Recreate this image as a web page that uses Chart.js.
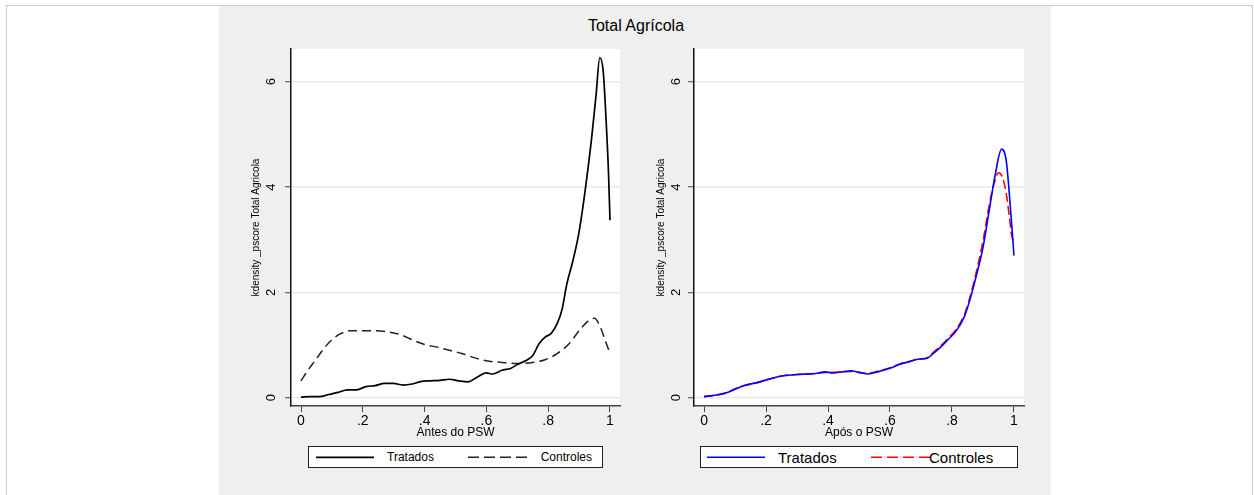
<!DOCTYPE html>
<html>
<head>
<meta charset="utf-8">
<script src="https://cdn.jsdelivr.net/npm/chart.js@4.4.0/dist/chart.umd.min.js"></script>
<style>
  body { margin: 0; background: #fff; width: 1254px; height: 495px; overflow: hidden; position: relative;
         font-family: "Liberation Sans", Arial, sans-serif; }
  #frame { position: absolute; left: 6px; top: 5px; width: 1245px; height: 495px; border: 1px solid #ccc; border-bottom: none; }
  #bg { position: absolute; left: 219px; top: 6px; width: 832px; height: 489px; background: #efefef; }
  #title { position: absolute; left: 219px; width: 834px; top: 18px; text-align: center; font-size: 16px; line-height: 16px; color: #000; }
  canvas { position: absolute; }
  .legend { position: absolute; top: 446px; height: 20px; border: 1px solid #222; background: #fff; }
  .legend svg { position: absolute; top: 0; }
  .legend span { position: absolute; white-space: nowrap; color: #000; }
</style>
</head>
<body>
<div id="frame"></div>
<div id="bg"></div>
<div id="title">Total Agrícola</div>
<canvas id="antes" width="410" height="400" style="left:220px;top:40px"></canvas>
<canvas id="apos" width="404" height="400" style="left:630px;top:40px"></canvas>
<div class="legend" id="legAntes" style="left:308px;width:293px"></div>
<div class="legend" id="legApos" style="left:700px;width:316px"></div>

<script>
const xTickValues = [0, 0.2, 0.4, 0.6, 0.8, 1];
const xTickLabels = ['0', '.2', '.4', '.6', '.8', '1'];
const yTickValues = [0, 2, 4, 6];
const yTickLabels = ['0', '2', '4', '6'];
const yTitle = 'kdensity _pscore Total Agricola';

// Antes do PSW
const antesTratX = [0, 0.03, 0.06, 0.09, 0.12, 0.15, 0.18, 0.21, 0.24, 0.27, 0.30, 0.33, 0.36, 0.39, 0.42, 0.45, 0.48, 0.51, 0.54, 0.57, 0.60, 0.62, 0.65, 0.68, 0.70, 0.73, 0.75, 0.77, 0.79, 0.81, 0.83, 0.845, 0.86, 0.88, 0.90, 0.92, 0.94, 0.955, 0.967, 0.978, 0.988, 0.995, 1.0];
const antesTratY = [0.01, 0.02, 0.02, 0.06, 0.10, 0.15, 0.15, 0.21, 0.23, 0.27, 0.27, 0.24, 0.26, 0.31, 0.32, 0.33, 0.35, 0.32, 0.30, 0.39, 0.47, 0.45, 0.52, 0.56, 0.63, 0.71, 0.80, 1.02, 1.15, 1.22, 1.42, 1.68, 2.15, 2.60, 3.15, 3.95, 4.90, 5.75, 6.46, 6.20, 5.20, 4.30, 3.37];
const antesContX = [0, 0.02, 0.045, 0.075, 0.10, 0.13, 0.16, 0.20, 0.24, 0.28, 0.32, 0.36, 0.40, 0.44, 0.48, 0.52, 0.56, 0.60, 0.65, 0.70, 0.75, 0.79, 0.83, 0.87, 0.90, 0.93, 0.95, 0.97, 0.985, 1.0];
const antesContY = [0.32, 0.50, 0.70, 0.94, 1.10, 1.22, 1.27, 1.27, 1.27, 1.25, 1.20, 1.10, 1.01, 0.96, 0.90, 0.84, 0.76, 0.70, 0.67, 0.65, 0.67, 0.72, 0.84, 1.04, 1.27, 1.46, 1.51, 1.32, 1.08, 0.84];

// Após o PSW
const aposTratX = [0, 0.04, 0.075, 0.10, 0.13, 0.18, 0.22, 0.26, 0.30, 0.33, 0.36, 0.39, 0.415, 0.445, 0.475, 0.50, 0.53, 0.56, 0.60, 0.635, 0.66, 0.69, 0.72, 0.74, 0.765, 0.79, 0.81, 0.84, 0.86, 0.88, 0.90, 0.92, 0.94, 0.96, 0.975, 0.99, 1.0];
const aposTratY = [0.02, 0.05, 0.10, 0.16, 0.23, 0.30, 0.37, 0.42, 0.44, 0.45, 0.46, 0.49, 0.47, 0.49, 0.51, 0.48, 0.45, 0.49, 0.56, 0.64, 0.68, 0.73, 0.75, 0.84, 0.97, 1.12, 1.24, 1.54, 1.90, 2.35, 2.85, 3.55, 4.25, 4.72, 4.50, 3.50, 2.70];
const aposContX = [0, 0.04, 0.075, 0.10, 0.13, 0.18, 0.22, 0.26, 0.30, 0.33, 0.36, 0.39, 0.415, 0.445, 0.475, 0.50, 0.53, 0.56, 0.60, 0.635, 0.66, 0.69, 0.72, 0.74, 0.765, 0.79, 0.81, 0.84, 0.86, 0.88, 0.90, 0.92, 0.935, 0.95, 0.965, 0.975, 0.985, 0.993, 1.0];
const aposContY = [0.02, 0.05, 0.10, 0.17, 0.23, 0.30, 0.37, 0.42, 0.44, 0.45, 0.46, 0.48, 0.48, 0.49, 0.50, 0.48, 0.46, 0.50, 0.57, 0.65, 0.68, 0.73, 0.76, 0.86, 0.99, 1.14, 1.27, 1.58, 1.95, 2.42, 2.97, 3.65, 4.05, 4.27, 4.15, 3.88, 3.45, 3.06, 2.98];

const pts = (xs, ys) => xs.map((x, i) => ({ x: x, y: ys[i] }));

function line(label, xs, ys, color, dash, width) {
  return {
    label: label,
    data: pts(xs, ys),
    showLine: true,
    borderColor: color,
    borderWidth: width,
    borderDash: dash,
    pointRadius: 0,
    cubicInterpolationMode: 'monotone',
    fill: false
  };
}

// white plot region like Stata
const whiteArea = {
  id: 'whiteArea',
  beforeDraw(chart) {
    const { ctx, chartArea: a } = chart;
    ctx.save();
    ctx.fillStyle = '#fff';
    ctx.fillRect(a.left, a.top, a.right - a.left, a.bottom - a.top);
    ctx.restore();
  }
};

function makePanel(id, datasets, xTitle, yWidth, yTitlePad, yTickPad) {
  const ctx = document.getElementById(id).getContext('2d');
  return new Chart(ctx, {
    type: 'scatter',
    data: { datasets: datasets },
    options: {
      responsive: false,
      animation: false,
      devicePixelRatio: 1,
      layout: { padding: { top: 9, right: 10, left: 0, bottom: 0 } },
      plugins: { legend: { display: false }, tooltip: { enabled: false } },
      scales: {
        x: {
          type: 'linear',
          min: -0.0324,
          max: 1.0324,
          afterBuildTicks: s => { s.ticks = xTickValues.map(v => ({ value: v })); },
          afterFit: s => { s.height = 34; s.paddingLeft = 0; s.paddingRight = 0; },
          ticks: {
            callback: (v, i) => xTickLabels[i],
            autoSkip: false, maxRotation: 0, padding: 1,
            color: '#000', font: { family: 'Liberation Sans', size: 14 }
          },
          grid: { drawOnChartArea: false, tickLength: 6, tickColor: '#444', tickWidth: 1 },
          border: { color: '#444', width: 1.5 },
          title: {
            display: true, text: xTitle, color: '#000',
            font: { family: 'Liberation Sans', size: 12 },
            padding: { top: 0, bottom: 0.3 }
          }
        },
        y: {
          type: 'linear',
          min: -0.158,
          max: 6.621,
          afterBuildTicks: s => { s.ticks = yTickValues.map(v => ({ value: v })); },
          afterFit: s => { s.width = yWidth; s.paddingTop = 0; s.paddingBottom = 0; },
          ticks: {
            callback: (v, i) => yTickLabels[i],
            minRotation: 90, maxRotation: 90, crossAlign: 'center', padding: yTickPad,
            color: '#000', font: { family: 'Liberation Sans', size: 13 }
          },
          grid: { color: '#e9e9e9', lineWidth: 1.5, tickLength: 6, tickColor: '#444', tickWidth: 1 },
          border: { color: '#111', width: 1.5 },
          title: {
            display: true, text: yTitle, color: '#000',
            font: { family: 'Liberation Sans', size: 10 },
            padding: { top: yTitlePad, bottom: 0 }
          }
        }
      }
    },
    plugins: [whiteArea]
  });
}

const antesSets = [
  line('Tratados', antesTratX, antesTratY, '#000', [], 1.7),
  line('Controles', antesContX, antesContY, '#222', [9, 5], 1.5)
];
const aposSets = [
  line('Tratados', aposTratX, aposTratY, '#0000ff', [], 1.6),
  line('Controles', aposContX, aposContY, '#ff0000', [9, 4], 1.6)
];

makePanel('antes', antesSets, 'Antes do PSW', 71, 30.5, 9.7);
makePanel('apos', aposSets, 'Após o PSW', 64, 25, 7.7);

// legends (Stata style box under each panel)
function legend(boxId, sets, keys, fontSize, textTop) {
  const box = document.getElementById(boxId);
  sets.forEach((ds, i) => {
    const k = keys[i];
    const w = k.x2 - k.x1;
    const svg = `<svg style="left:${k.x1}px" width="${w}" height="20">` +
      `<line x1="0" y1="10.3" x2="${w}" y2="10.3" stroke="${ds.borderColor}" stroke-width="${ds.borderWidth}"` +
      (ds.borderDash.length ? ` stroke-dasharray="11 5"` : '') + `/></svg>`;
    box.insertAdjacentHTML('beforeend', svg);
    const sp = document.createElement('span');
    sp.textContent = ds.label;
    sp.style.left = k.tx + 'px';
    sp.style.top = textTop + 'px';
    sp.style.fontSize = fontSize + 'px';
    sp.style.lineHeight = fontSize + 'px';
    box.appendChild(sp);
  });
}

legend('legAntes', antesSets, [{ x1: 6.7, x2: 65, tx: 78 }, { x1: 159, x2: 218, tx: 231.7 }], 12, 4.4);
legend('legApos', aposSets, [{ x1: 5.7, x2: 64, tx: 77 }, { x1: 169.7, x2: 229, tx: 228 }], 15, 3);
</script>
</body>
</html>
